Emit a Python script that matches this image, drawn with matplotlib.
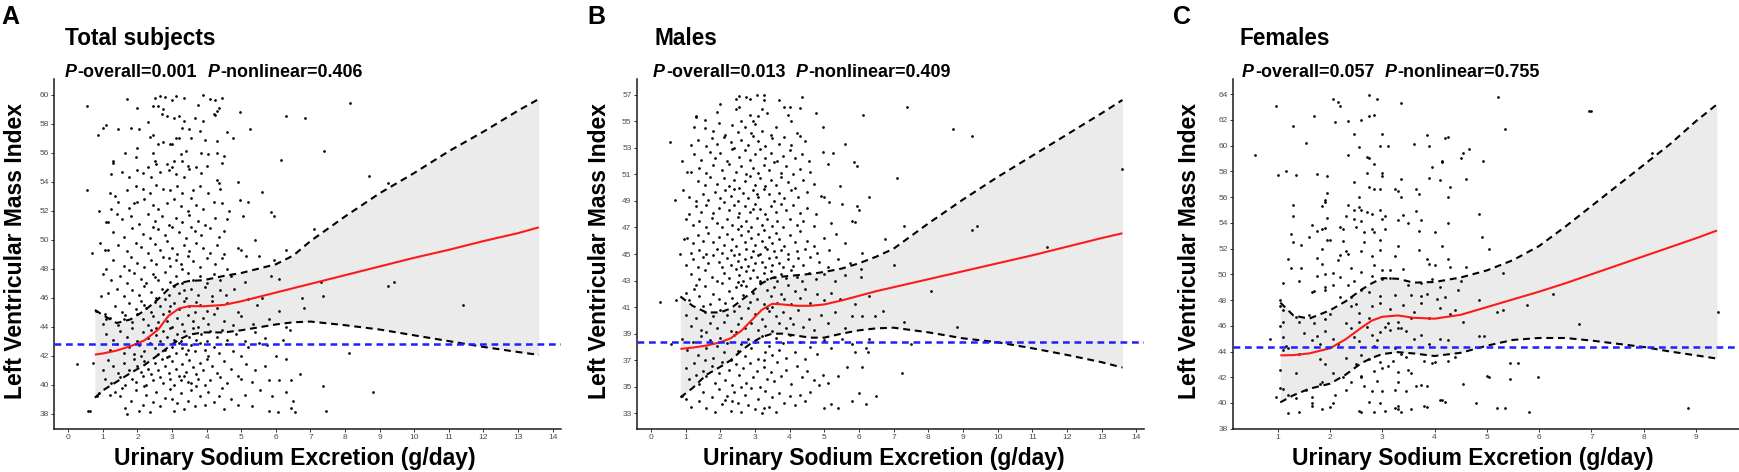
import matplotlib
matplotlib.use("Agg")
import matplotlib.pyplot as plt
import numpy as np

# ---------------- data ----------------
panel_letters = ["A", "B", "C"]
panel_titles = ["Total subjects", "Males", "Females"]
p_overall = ["0.001", "0.013", "0.057"]
p_nonlinear = ["0.406", "0.409", "0.755"]

xticks_a = list(range(0, 15))
yticks_a = list(range(38, 61, 2))
xticks_b = list(range(0, 15))
yticks_b = list(range(33, 58, 2))
xticks_c = list(range(1, 10))
yticks_c = list(range(38, 65, 2))

ref_a = 42.82
ref_b = 38.36
ref_c = 44.36

# spline fit (x, estimate, upper, lower)
fit_x_a = [0.77, 1.0, 1.4, 1.8, 2.2, 2.6, 2.9, 3.2, 3.5, 3.9, 4.5, 5.0, 5.5, 6.0, 6.5, 7.0, 8.0, 9.0, 10.0, 11.0, 12.0, 13.0, 13.6]
fit_y_a = [42.07, 42.15, 42.35, 42.65, 43.05, 43.8, 44.75, 45.25, 45.42, 45.4, 45.5, 45.75, 46.05, 46.35, 46.65, 46.95, 47.55, 48.15, 48.75, 49.3, 49.9, 50.45, 50.85]
upr_y_a = [45.15, 44.8, 44.25, 44.5, 45.1, 45.9, 46.6, 47.0, 47.15, 47.2, 47.5, 47.7, 48.0, 48.3, 48.9, 49.9, 51.6, 53.2, 54.6, 56.1, 57.45, 58.9, 59.7]
lwr_y_a = [39.1, 39.6, 40.2, 40.8, 41.35, 42.05, 42.6, 43.1, 43.45, 43.6, 43.6, 43.75, 43.95, 44.15, 44.3, 44.35, 44.1, 43.8, 43.4, 43.0, 42.6, 42.25, 42.05]

fit_x_b = [0.85, 1.2, 1.6, 2.0, 2.3, 2.6, 2.9, 3.2, 3.5, 3.8, 4.2, 4.6, 5.0, 5.5, 6.0, 6.5, 7.0, 8.0, 9.0, 10.0, 11.0, 12.0, 13.0, 13.6]
fit_y_b = [37.85, 37.95, 38.1, 38.35, 38.65, 39.2, 40.0, 40.8, 41.25, 41.2, 41.1, 41.1, 41.2, 41.5, 41.85, 42.2, 42.5, 43.1, 43.7, 44.3, 44.9, 45.55, 46.2, 46.56]
upr_y_b = [41.8, 41.1, 40.6, 40.6, 40.9, 41.5, 42.1, 42.8, 43.2, 43.3, 43.4, 43.5, 43.65, 43.9, 44.3, 44.8, 45.4, 47.3, 49.1, 50.8, 52.4, 54.0, 55.6, 56.6]
lwr_y_b = [34.2, 34.9, 35.9, 36.5, 37.0, 37.7, 38.3, 38.75, 39.0, 39.0, 38.85, 38.7, 38.7, 39.0, 39.25, 39.4, 39.45, 39.1, 38.65, 38.35, 37.9, 37.4, 36.85, 36.45]

fit_x_c = [1.05, 1.3, 1.6, 2.0, 2.3, 2.6, 2.8, 3.0, 3.3, 3.6, 4.0, 4.5, 5.0, 5.5, 6.0, 6.5, 7.0, 7.5, 8.0, 8.5, 9.0, 9.4]
fit_y_c = [43.7, 43.72, 43.85, 44.25, 44.95, 45.85, 46.4, 46.7, 46.8, 46.62, 46.55, 46.85, 47.45, 48.05, 48.65, 49.3, 50.0, 50.7, 51.4, 52.1, 52.8, 53.4]
upr_y_c = [47.8, 46.8, 46.55, 47.2, 47.9, 48.8, 49.3, 49.7, 49.65, 49.35, 49.4, 49.75, 50.3, 51.1, 52.2, 53.7, 55.3, 56.9, 58.5, 60.1, 61.9, 63.2]
lwr_y_c = [40.05, 40.6, 41.1, 41.5, 42.2, 43.1, 43.5, 43.8, 43.95, 43.85, 43.65, 43.9, 44.45, 44.9, 45.05, 45.05, 44.85, 44.6, 44.35, 44.0, 43.7, 43.45]

# individual subjects (urinary sodium g/day, LVMI)
pts_a = [
(1.7,59.7),(2.5,59.8),(2.65,59.9),(2.8,59.85),(3.1,59.9),(3.35,59.8),(3.9,60.0),(4.1,59.7),(4.25,59.6),(4.45,59.75),
(2.45,59.2),(2.6,59.2),(2.75,59.0),(3.0,59.6),(2.0,59.1),(4.3,58.9),(4.35,59.1),(3.75,59.3),(0.55,59.2),(8.15,59.4),
(1.0,57.7),(1.1,57.9),(2.3,58.1),(2.85,58.5),(3.2,58.5),(3.35,58.2),(3.65,58.4),(3.9,58.2),(4.2,58.7),(4.25,58.6),
(4.95,58.8),(2.7,58.7),(3.05,58.4),(6.3,58.5),(6.85,58.4),(1.45,57.6),(1.8,57.7),(2.05,57.6),(2.45,57.2),(3.3,57.7),
(3.5,57.6),(3.8,57.5),(4.6,57.4),(4.75,57.0),(5.25,57.6),(0.85,57.2),
(2.35,57.1),(2.6,56.6),(2.75,56.75),(3.1,57.0),(3.2,57.0),(3.0,56.6),(3.55,57.0),(3.95,56.9),(4.3,56.8),(2.0,56.3),
(2.45,56.0),(2.95,56.6),(3.4,56.1),(3.85,56.0),(4.05,55.9),(4.3,56.0),(4.5,55.8),(3.25,55.9),(7.4,56.1),(1.65,56.0),
(1.3,55.4),(1.3,55.3),(1.95,55.7),(2.3,55.0),(2.5,55.4),(2.55,55.2),(2.85,55.2),(3.05,55.4),(3.3,55.4),(3.45,55.1),
(3.7,55.0),(4.0,55.1),(4.45,55.3),(6.15,55.5),(1.55,54.7),(1.75,54.3),(2.15,54.6),(2.4,54.3),(2.65,54.7),(2.9,54.8),
(3.1,54.5),(3.35,54.3),(3.5,54.9),(3.85,54.6),(4.3,54.1),(4.35,53.9),(4.9,54.0),(1.25,54.5),(3.0,55.0),(2.0,54.8),(8.7,54.4),
(0.55,53.4),(1.2,53.2),(1.35,53.0),(1.7,53.4),(1.95,53.7),(2.15,53.5),(2.35,53.2),(2.55,53.8),(2.75,53.5),(2.95,53.4),
(3.15,53.7),(3.3,53.2),(3.6,53.4),(3.8,53.7),(4.05,53.2),(4.4,53.5),(5.6,53.3),(9.25,53.9),(1.45,52.6),(1.75,52.2),
(2.0,52.6),(2.2,52.8),(2.45,52.4),(2.6,52.1),(2.85,52.5),(3.05,52.8),(3.25,52.3),(3.45,52.0),(3.7,52.4),(3.9,52.1),
(4.2,52.6),(4.45,52.5),(4.95,52.7),(5.2,52.6),(1.25,52.1),(1.9,52.5),(3.55,52.9),(4.65,52.0),
(0.9,52.0),(1.1,51.2),(1.15,51.2),(1.55,51.4),(1.8,51.6),(2.05,51.1),(2.3,51.8),(2.5,51.3),(2.7,51.6),(2.9,51.0),
(3.1,51.5),(3.3,51.2),(3.5,51.7),(3.75,51.3),(3.95,51.0),(4.25,51.5),(4.6,51.4),(5.05,51.6),(5.85,51.9),(5.95,51.6),
(1.3,50.5),(1.6,50.2),(1.85,50.8),(2.15,50.4),(2.35,50.1),(2.6,50.7),(2.8,50.3),(3.0,50.9),(3.2,50.5),(3.4,50.1),
(3.65,50.6),(3.85,50.3),(4.1,50.8),(4.35,50.2),(4.5,50.6),(5.4,50.0),(7.1,50.7),(2.45,50.9),(3.55,50.9),(1.4,51.8),
(0.93,49.8),(0.7,49.1),(1.05,49.3),(1.15,49.3),(1.45,49.6),(1.7,49.2),(1.95,49.8),(2.1,49.5),(2.3,49.1),(2.5,49.7),
(2.65,49.3),(2.85,49.9),(3.0,49.4),(3.15,49.0),(3.35,49.6),(3.5,49.2),(3.7,49.8),(3.9,49.4),(4.1,49.1),(4.3,49.6),
(4.5,49.0),(4.9,49.4),(5.0,49.3),(5.15,48.9),(6.3,49.3),(1.3,48.6),(1.6,48.2),(1.8,48.8),(2.0,48.4),(2.2,48.1),
(2.4,48.6),(2.55,48.3),(2.75,48.8),(2.95,48.2),(3.1,48.6),(3.25,48.3),(3.45,48.9),(3.6,48.5),(3.8,48.1),(4.0,48.7),
(4.25,48.3),(4.45,48.7),(4.6,48.0),(5.5,48.9),(5.95,48.6),(2.9,48.7),(3.3,48.0),(1.1,48.0),
(1.0,47.6),(1.25,47.2),(1.5,47.5),(1.7,47.0),(1.9,47.7),(2.1,47.3),(2.25,47.0),(2.45,47.6),(2.6,47.2),(2.8,47.8),
(2.95,47.1),(3.1,47.5),(3.3,47.0),(3.45,47.7),(3.6,47.2),(3.8,47.5),(4.0,47.0),(4.2,47.6),(4.4,47.2),(4.7,47.5),
(5.1,47.1),(5.85,47.5),(6.1,47.3),(7.3,47.1),(0.95,46.1),(1.15,46.3),(1.4,46.6),(1.6,46.1),(1.85,46.5),(2.05,46.2),
(2.2,46.8),(2.4,46.4),(2.55,46.0),(2.7,46.6),(2.9,46.2),(3.05,46.8),(3.2,46.3),(3.4,46.0),(3.55,46.6),(3.75,46.2),
(3.95,46.7),(4.15,46.1),(4.4,46.5),(4.55,46.2),(4.8,46.6),(5.6,46.0),(6.75,46.0),(7.35,46.1),(9.25,46.8),(9.4,47.1),
(2.5,47.4),(3.35,46.5),(1.75,47.9),
(0.8,45.1),(1.05,44.9),(1.1,44.5),(1.35,45.4),(1.55,45.0),(1.75,45.6),(1.95,45.2),(2.1,45.8),(2.25,45.3),(2.4,45.0),
(2.5,45.7),(2.65,45.4),(2.8,45.9),(2.9,45.1),(3.05,45.6),(3.2,45.2),(3.35,45.8),(3.5,45.4),(3.65,45.0),(3.8,45.5),
(4.0,45.1),(4.15,45.8),(4.3,45.3),(4.6,45.6),(4.9,45.0),(5.2,45.9),(5.45,45.5),(6.1,45.1),(6.8,45.3),(11.4,45.5),
(1.0,44.2),(1.2,44.6),(1.45,44.1),(1.65,44.8),(1.85,44.3),(2.0,44.9),(2.15,44.5),(2.3,44.1),(2.45,44.7),(2.6,44.3),
(2.75,44.9),(2.85,44.4),(3.0,44.0),(3.15,44.6),(3.3,44.2),(3.45,44.8),(3.6,44.4),(3.75,44.0),(3.9,44.6),(4.05,44.2),
(4.2,44.9),(4.5,44.4),(4.75,44.1),(5.0,44.7),(5.35,44.2),(5.8,44.5),(6.3,44.0),(2.2,45.5),(2.95,45.4),(3.7,45.7),(1.6,44.5),
(0.25,41.4),(1.1,43.5),(1.3,43.1),(1.5,43.7),(1.7,43.3),(1.85,43.9),(2.0,43.0),(2.15,43.6),(2.3,43.2),(2.4,43.8),
(2.55,43.4),(2.65,43.0),(2.75,43.7),(2.85,43.3),(2.95,43.9),(3.05,43.1),(3.15,43.5),(3.25,43.0),(3.35,43.7),(3.5,43.3),
(3.6,43.9),(3.7,43.1),(3.85,43.5),(4.0,43.0),(4.1,43.7),(4.3,43.3),(4.45,43.8),(4.6,43.1),(4.85,43.5),(5.1,43.0),
(5.4,43.6),(5.7,43.2),(6.2,43.1),(6.4,43.8),(1.2,42.4),(1.4,42.8),(1.6,42.2),(1.75,42.6),(1.9,42.1),(2.05,42.7),
(2.2,42.3),(2.35,42.9),(2.5,42.5),(2.6,42.1),(2.7,42.8),(2.8,42.4),(2.9,42.0),(3.0,42.6),(3.1,42.2),(3.2,42.9),
(3.3,42.5),(3.4,42.1),(3.55,42.7),(3.65,42.3),(3.8,42.9),(3.95,42.4),(4.05,42.0),(4.2,42.6),(4.35,42.2),(4.55,42.8),
(4.75,42.3),(5.0,42.0),(5.2,42.6),(5.5,42.9),(5.75,42.7),(6.0,42.0),(8.1,42.2),(2.55,43.9),(3.45,42.4),(2.1,42.0),
(0.72,41.5),(1.0,41.0),(1.15,41.7),(1.3,41.3),(1.45,40.8),(1.6,41.5),(1.75,41.0),(1.9,41.8),(2.0,41.3),(2.1,40.9),
(2.2,41.6),(2.3,41.1),(2.4,40.7),(2.5,41.5),(2.6,41.0),(2.7,41.8),(2.8,41.3),(2.9,40.8),(3.0,41.6),(3.1,41.1),
(3.2,40.6),(3.3,41.4),(3.4,40.9),(3.5,41.7),(3.6,41.2),(3.7,40.7),(3.8,41.5),(3.9,41.0),(4.0,41.8),(4.15,41.3),
(4.3,40.8),(4.5,41.6),(4.7,41.1),(4.9,40.6),(5.15,41.4),(5.4,41.0),(5.7,41.3),(6.3,41.8),(1.05,40.4),(1.25,40.1),
(1.5,40.5),(1.65,40.0),(1.85,40.4),(1.95,40.2),(2.15,40.6),(2.25,40.0),(2.45,40.3),(2.65,40.5),(2.75,40.1),(2.95,40.4),
(3.05,40.0),(3.25,40.3),(3.35,40.6),(3.55,40.1),(3.75,40.4),(3.95,40.0),(4.1,40.3),(4.4,40.5),(4.6,40.1),(5.0,40.4),
(5.3,40.2),(5.8,40.3),(6.1,40.3),(6.45,40.3),(6.7,40.7),(2.85,41.9),(3.45,40.2),
(0.57,38.2),(0.62,38.2),(0.82,39.2),(0.9,39.4),(1.2,39.3),(1.35,39.5),(1.5,39.2),(1.65,38.4),(1.7,38.0),(1.8,38.9),
(1.95,39.6),(2.05,38.2),(2.15,38.6),(2.25,39.3),(2.35,38.1),(2.45,38.8),(2.55,39.5),(2.65,38.5),(2.8,39.1),(2.95,39.7),
(3.05,38.2),(3.15,38.7),(3.25,39.4),(3.35,38.3),(3.45,38.9),(3.55,39.6),(3.65,38.5),(3.8,39.2),(3.95,38.6),(4.05,39.5),
(4.2,38.8),(4.35,39.2),(4.5,38.3),(4.7,39.0),(4.9,38.6),(5.1,39.3),(5.3,38.5),(5.55,39.6),(5.8,38.2),(5.9,39.2),
(6.05,38.1),(6.3,39.5),(6.5,38.9),(6.55,38.1),(6.45,38.4),(7.45,38.2),(7.35,39.9),(8.8,39.5),(3.0,39.0),(2.2,39.9),
(3.7,39.9),(1.55,39.8),(4.45,39.8),
]

pts_b = [
(2.45,56.7),(2.55,56.9),(2.75,56.8),(2.85,56.7),(3.05,57.0),(3.25,57.0),(3.25,56.6),(3.7,56.6),(3.85,56.1),(4.0,56.1),
(4.3,56.0),(4.35,56.8),(1.9,55.7),(2.0,56.3),(2.45,55.9),(2.55,56.1),(2.85,55.5),(3.1,55.4),(3.2,55.9),(3.35,55.6),
(3.95,55.5),(4.75,55.6),(1.3,55.4),(1.3,55.3),(2.6,55.0),(2.95,55.0),(7.4,56.1),(6.13,55.5),(1.55,55.1),(4.05,55.0),
(1.25,54.6),(1.55,54.5),(1.8,54.3),(1.95,54.9),(2.15,54.0),(2.35,54.7),(2.5,54.2),(2.7,54.6),(2.9,54.1),(3.0,54.8),
(3.2,54.3),(3.45,54.0),(3.6,54.6),(4.2,54.1),(4.3,53.9),(4.95,54.6),(8.7,54.4),(1.15,53.2),(1.35,53.6),(1.6,53.1),
(1.75,53.7),(1.9,53.3),(2.1,53.8),(2.3,53.4),(2.4,53.0),(2.6,53.6),(2.8,53.2),(3.1,53.5),(3.3,53.1),(3.5,53.7),
(3.7,53.3),(3.85,53.8),(4.05,53.2),(4.45,53.5),(5.6,53.3),(9.27,53.9),(0.55,53.4),(2.95,53.9),
(0.9,52.0),(1.25,52.5),(1.45,52.1),(1.7,52.7),(1.85,52.2),(2.0,52.6),(2.2,52.0),(2.35,52.9),(2.55,52.3),(2.7,52.8),
(2.85,52.1),(3.0,52.5),(3.15,52.9),(3.3,52.2),(3.45,52.6),(3.65,52.0),(3.8,52.4),(4.0,52.8),(4.15,52.2),(4.35,52.5),
(4.55,52.0),(4.95,52.7),(5.25,52.6),(5.95,51.6),(5.85,51.9),(1.15,51.2),(1.05,51.2),(1.4,51.5),(1.6,51.1),(1.8,51.7),
(2.05,51.3),(2.25,51.8),(2.45,51.2),(2.6,51.6),(2.75,51.0),(2.95,51.5),(3.1,51.1),(3.25,51.7),(3.4,51.3),(3.55,51.9),
(3.75,51.1),(3.9,51.6),(4.1,51.0),(4.3,51.4),(4.6,51.2),(5.1,51.8),(13.6,51.4),(7.1,50.7),
(1.35,50.5),(1.55,50.2),(1.7,50.8),(1.9,50.3),(2.1,50.7),(2.25,50.1),(2.4,50.6),(2.55,50.0),(2.7,50.5),(2.85,50.9),
(3.0,50.2),(3.15,50.7),(3.3,50.1),(3.45,50.6),(3.6,50.2),(3.75,50.8),(3.95,50.4),(4.15,50.0),(4.4,50.6),(4.7,50.3),
(5.45,50.1),(0.93,49.8),(0.7,49.1),(1.1,49.3),(1.3,49.0),(1.5,49.5),(1.65,49.1),(1.85,49.7),(2.0,49.2),(2.15,49.8),
(2.3,49.4),(2.5,49.0),(2.65,49.6),(2.8,49.2),(2.95,49.8),(3.1,49.3),(3.25,49.9),(3.4,49.5),(3.55,49.0),(3.7,49.6),
(3.85,49.2),(4.05,49.8),(4.25,49.3),(4.5,49.7),(4.9,49.4),(5.0,49.3),(6.3,49.3),(3.05,49.5),(2.4,49.9),
(1.1,48.0),(1.3,48.6),(1.45,48.2),(1.6,48.7),(1.8,48.1),(1.95,48.5),(2.1,48.9),(2.25,48.3),(2.4,48.7),(2.55,48.1),
(2.7,48.6),(2.85,48.2),(3.0,48.8),(3.15,48.4),(3.3,48.0),(3.45,48.6),(3.6,48.2),(3.75,48.8),(3.9,48.3),(4.1,48.7),
(4.3,48.1),(4.5,48.5),(4.75,48.0),(5.15,48.9),(5.5,48.8),(5.95,48.6),(6.0,48.3),(1.0,47.6),(1.2,47.2),(1.4,47.5),
(1.6,47.0),(1.75,47.7),(1.9,47.3),(2.05,47.0),(2.2,47.6),(2.35,47.2),(2.5,47.8),(2.6,47.1),(2.75,47.5),(2.9,47.0),
(3.05,47.7),(3.2,47.2),(3.35,47.6),(3.5,47.1),(3.65,47.5),(3.8,47.0),(4.0,47.6),(4.2,47.2),(4.4,47.5),(4.7,47.1),
(5.2,47.3),(5.8,47.5),(5.9,47.4),(7.3,47.1),(9.25,46.8),(9.4,47.1),(2.95,48.4),
(0.95,46.1),(1.05,46.2),(1.2,45.8),(1.35,46.4),(1.5,46.0),(1.65,46.6),(1.8,45.9),(1.95,46.3),(2.1,45.7),(2.2,46.5),
(2.35,46.1),(2.45,45.6),(2.6,46.4),(2.7,45.9),(2.8,46.7),(2.9,46.2),(3.0,45.7),(3.1,46.5),(3.2,46.0),(3.3,45.5),
(3.4,46.3),(3.5,45.8),(3.6,46.6),(3.7,46.1),(3.85,45.6),(4.0,46.4),(4.15,45.9),(4.3,46.7),(4.5,46.0),(4.7,45.6),
(5.0,46.2),(5.35,46.5),(5.6,45.8),(6.75,46.1),(0.85,45.0),(1.15,45.1),(1.4,45.3),(1.6,45.0),(1.9,45.4),(2.05,45.1),
(2.3,45.3),(2.55,45.0),(2.75,45.4),(2.95,45.2),(3.15,45.0),(3.35,45.4),(3.55,45.2),(3.75,45.3),(3.95,45.0),(4.2,45.2),
(4.45,45.4),(4.8,45.1),(5.15,45.3),(6.1,45.1),(11.43,45.5),(2.5,46.9),(3.25,46.8),
(1.0,44.2),(1.2,44.6),(1.35,44.0),(1.5,44.8),(1.65,44.3),(1.8,44.9),(1.95,44.4),(2.05,44.0),(2.2,44.7),(2.3,44.2),
(2.4,44.9),(2.5,44.5),(2.6,44.0),(2.7,44.6),(2.8,44.1),(2.9,44.8),(3.0,44.3),(3.1,44.9),(3.2,44.4),(3.3,44.0),
(3.4,44.7),(3.5,44.2),(3.6,44.8),(3.7,44.3),(3.8,44.0),(3.95,44.6),(4.1,44.1),(4.25,44.7),(4.4,44.2),(4.6,44.8),
(4.85,44.4),(5.1,44.0),(5.4,44.6),(5.75,44.3),(7.0,44.2),(6.05,43.9),(1.15,43.5),(1.4,43.1),(1.55,43.8),(1.75,43.3),
(1.9,43.0),(2.1,43.6),(2.25,43.2),(2.45,43.9),(2.55,43.4),(2.65,43.0),(2.75,43.7),(2.85,43.2),(2.95,43.8),(3.05,43.3),
(3.15,43.0),(3.25,43.6),(3.35,43.1),(3.45,43.7),(3.55,43.3),(3.65,43.0),(3.75,43.5),(3.9,43.2),(4.05,43.8),(4.2,43.3),
(4.35,43.0),(4.55,43.6),(4.75,43.1),(5.0,43.5),(5.3,43.0),(5.6,43.4),(6.05,43.3),(1.3,42.7),(2.6,42.7),
(0.25,41.4),(0.72,41.5),(1.0,42.1),(1.1,41.5),(1.25,42.4),(1.4,41.8),(1.55,42.6),(1.7,41.2),(1.8,42.0),(1.95,41.6),
(2.05,42.8),(2.15,41.3),(2.25,42.2),(2.35,41.7),(2.45,42.5),(2.55,41.1),(2.65,41.9),(2.75,42.6),(2.85,41.4),(2.95,42.1),
(3.05,41.6),(3.15,42.8),(3.25,41.2),(3.35,42.3),(3.45,41.8),(3.55,42.5),(3.65,41.3),(3.75,42.0),(3.85,41.6),(3.95,42.7),
(4.05,41.2),(4.15,42.2),(4.3,41.7),(4.45,42.4),(4.6,41.3),(4.8,42.0),(5.0,41.5),(5.2,42.1),(5.45,41.6),(5.9,41.2),
(6.3,41.8),(8.09,42.2),(1.5,41.1),(2.5,42.9),(3.5,41.0),
(1.0,40.4),(1.15,39.6),(1.3,40.2),(1.45,39.3),(1.55,40.6),(1.7,39.8),(1.8,40.3),(1.9,39.4),(2.0,40.8),(2.1,39.9),
(2.2,40.4),(2.3,39.2),(2.4,40.7),(2.5,39.7),(2.6,40.2),(2.7,39.4),(2.8,40.9),(2.9,39.8),(3.0,40.5),(3.1,39.3),
(3.2,40.1),(3.3,39.6),(3.4,40.7),(3.5,39.2),(3.6,40.3),(3.7,39.8),(3.8,40.6),(3.9,39.4),(4.0,40.2),(4.1,39.7),
(4.25,40.8),(4.4,39.5),(4.55,40.1),(4.7,39.3),(4.9,40.4),(5.1,39.8),(5.3,40.6),(5.6,39.4),(5.8,40.3),(6.1,40.3),
(6.45,40.3),(6.7,40.7),(7.3,39.9),(8.84,39.5),(1.6,39.1),(3.35,40.9),(2.45,39.1),
(0.57,38.2),(0.9,38.6),(1.05,37.8),(1.2,38.4),(1.35,37.4),(1.45,38.8),(1.6,37.9),(1.7,38.5),(1.8,37.2),(1.9,38.1),
(2.0,38.7),(2.1,37.6),(2.2,38.3),(2.3,37.0),(2.4,38.9),(2.5,37.7),(2.6,38.2),(2.7,37.3),(2.8,38.6),(2.9,37.9),
(3.0,38.4),(3.1,37.1),(3.2,38.8),(3.3,37.6),(3.4,38.1),(3.5,37.4),(3.6,38.7),(3.7,37.8),(3.8,38.3),(3.9,37.2),
(4.0,38.9),(4.15,37.6),(4.3,38.4),(4.45,37.1),(4.6,38.0),(4.8,37.5),(5.0,38.5),(5.2,37.9),(5.5,38.6),(5.8,38.2),
(5.9,37.6),(6.2,37.9),(6.25,37.6),(7.5,38.2),(6.3,38.6),(1.55,37.0),(3.25,37.0),
(1.0,36.4),(1.1,35.6),(1.25,36.8),(1.4,35.2),(1.5,36.2),(1.6,35.8),(1.75,36.6),(1.85,35.3),(1.95,36.0),(2.05,36.9),
(2.15,35.5),(2.25,36.3),(2.35,35.1),(2.45,36.7),(2.55,35.9),(2.65,36.4),(2.75,35.3),(2.85,36.8),(2.95,35.7),(3.05,36.2),
(3.15,35.0),(3.25,36.5),(3.35,35.6),(3.45,36.1),(3.55,35.4),(3.65,36.9),(3.75,35.8),(3.9,36.3),(4.05,35.2),(4.2,36.6),
(4.35,35.7),(4.5,36.2),(4.7,35.5),(4.95,35.9),(5.1,35.3),(5.4,35.8),(5.65,36.5),(6.1,36.5),(7.25,36.0),(4.85,35.1),
(2.6,35.0),(1.3,35.9),
(0.9,34.3),(1.0,34.1),(1.15,33.5),(1.4,33.9),(1.5,34.6),(1.6,33.4),(1.75,34.2),(1.85,33.1),(1.95,34.8),(2.05,33.7),
(2.2,34.3),(2.3,33.2),(2.4,34.6),(2.5,33.8),(2.6,33.1),(2.7,34.4),(2.8,33.6),(2.9,34.9),(3.0,33.3),(3.1,34.1),
(3.2,33.0),(3.3,34.7),(3.4,33.5),(3.5,34.2),(3.6,33.1),(3.7,34.5),(3.85,33.8),(4.0,34.3),(4.15,33.6),(4.3,34.4),
(4.45,33.9),(4.6,34.6),(5.0,33.4),(5.2,33.7),(5.4,33.4),(5.8,33.9),(6.2,33.7),(6.5,34.3),(6.0,34.5),(2.15,34.0),
(3.25,33.4),(2.35,33.9),
]

pts_c = [
(0.96,63.1),(2.05,63.6),(2.15,63.4),(2.2,63.1),(2.75,63.9),(2.9,63.6),(3.35,63.3),(5.22,63.8),(1.7,62.3),(2.35,61.9),
(2.6,62.0),(2.75,62.3),(2.85,62.4),(6.95,62.7),(7.0,62.7),(2.1,61.8),(1.3,61.5),
(3.0,60.9),(2.45,60.9),(1.55,60.2),(2.55,59.9),(2.95,60.0),(3.1,60.0),(3.6,60.1),(3.85,60.8),(3.9,60.0),(4.2,60.6),
(4.25,60.7),(5.35,61.3),(0.57,59.3),(2.35,59.3),
(2.7,59.1),(2.75,59.0),(2.85,58.6),(3.0,57.9),(3.95,58.3),(4.15,58.8),(4.15,58.7),(4.5,59.0),(4.55,59.4),(4.65,59.7),
(4.93,58.8),(8.16,59.4),(1.0,57.7),(1.15,58.0),
(1.35,57.7),(1.75,57.8),(1.95,57.6),(2.45,57.2),(2.7,57.9),(2.75,56.8),(2.85,56.6),(2.95,56.6),(3.0,57.6),(3.3,56.5),
(3.35,57.4),(3.25,56.6),(3.65,56.6),(3.7,56.2),(3.9,57.5),(4.1,57.3),(4.3,56.8),(4.25,56.0),(4.6,57.4),(2.55,56.0),
(1.95,56.3),(1.9,55.8),(3.35,56.0),
(1.3,55.4),(1.9,55.6),(1.85,55.3),(2.35,55.4),(2.45,55.0),(2.55,55.2),(2.6,55.0),(2.7,54.8),(2.8,54.7),(2.95,55.0),
(3.05,54.5),(2.6,54.1),(2.45,54.3),(3.4,54.6),(3.5,54.0),(3.75,54.2),(3.65,54.9),(4.85,54.7),(1.3,54.5),(1.95,54.4),
(2.3,54.5),(3.0,54.3),(3.3,54.2),(4.25,54.0),
(1.65,53.8),(1.75,53.4),(1.85,53.5),(1.9,53.6),(2.2,53.7),(2.25,53.5),(2.5,53.7),(2.65,53.3),(2.8,53.5),(2.85,53.3),
(3.05,53.5),(3.7,53.4),(4.0,53.3),(1.25,53.1),(1.3,52.5),(1.45,52.3),(1.6,52.9),(1.95,52.7),(2.0,52.7),(2.25,52.6),
(2.65,52.5),(2.95,52.7),(3.3,52.2),(3.7,51.9),(4.15,52.2),(4.9,52.9),(5.05,52.0),(1.85,52.0),
(1.2,51.2),(1.25,50.5),(1.45,50.5),(1.75,51.3),(1.85,50.8),(2.2,51.5),(2.15,51.1),(2.3,51.8),(2.35,51.6),(2.6,51.8),
(2.8,51.4),(2.95,51.9),(3.25,51.4),(3.85,51.2),(3.9,50.8),(4.0,50.7),(4.25,51.2),(4.3,50.6),(2.4,50.5),(2.6,50.2),
(2.85,50.7),(3.0,50.3),(3.15,50.3),(3.4,50.4),(4.6,50.6),(5.3,50.1),(1.9,50.0),(2.05,50.1),
(1.1,49.3),(1.4,49.5),(1.75,49.9),(1.9,49.0),(2.05,49.2),(2.2,49.8),(2.35,49.2),(2.45,49.5),(2.6,48.8),(2.8,49.9),
(3.0,49.6),(3.15,49.7),(3.5,49.2),(3.75,49.3),(3.95,49.6),(4.1,49.0),(4.5,49.5),(1.65,48.6),(1.7,48.7),(2.2,48.2),
(2.4,48.2),(2.75,48.6),(2.95,48.3),(3.25,48.4),(3.55,48.4),(3.75,48.3),(3.85,48.5),(4.05,48.1),(4.2,48.2),(4.45,48.8),
(4.85,48.0),(6.27,48.5),(1.05,48.0),(1.9,48.8),
(1.05,47.5),(1.1,47.2),(1.35,46.7),(1.6,46.8),(2.0,46.9),(2.4,47.5),(2.5,47.7),(2.55,47.0),(2.8,47.5),(2.95,47.8),
(3.15,47.3),(3.4,47.6),(3.6,47.1),(3.75,47.8),(4.1,47.4),(4.3,46.9),(4.4,47.2),(5.2,47.1),(5.3,47.2),(5.76,47.6),
(1.1,46.3),(1.05,46.0),(1.4,46.3),(1.7,46.2),(1.9,46.5),(2.3,46.2),(2.55,46.3),(2.75,46.6),(3.1,46.2),(3.3,46.3),
(3.55,46.6),(3.9,46.6),(4.55,46.3),(6.76,46.15),(9.42,47.1),
(0.85,45.0),(1.1,45.1),(1.15,44.4),(1.2,44.3),(1.5,45.4),(1.65,44.9),(1.75,45.2),(1.8,44.6),(1.9,45.6),(2.05,45.0),
(2.15,44.6),(2.4,45.8),(2.45,45.1),(2.55,44.8),(2.7,45.9),(2.8,45.3),(2.9,44.9),(2.95,45.5),(3.05,45.9),(3.15,45.7),
(3.3,45.8),(3.35,45.8),(3.45,45.6),(3.6,45.0),(3.75,45.3),(3.9,44.6),(4.1,45.0),(4.25,44.9),(4.85,45.2),(4.95,45.2),
(2.85,44.4),(3.25,44.3),(1.1,44.1),
(1.05,42.6),(1.4,43.8),(1.8,43.4),(1.9,43.0),(2.05,42.3),(2.3,43.5),(2.5,43.0),(2.6,42.1),(2.75,43.4),(2.85,42.5),
(2.95,43.2),(3.0,42.7),(3.1,42.9),(3.2,43.3),(3.3,42.4),(3.45,43.6),(3.5,42.6),(3.55,42.3),(3.8,43.3),(3.95,43.1),
(4.0,43.2),(4.25,43.3),(4.4,43.6),(5.45,43.1),(5.6,43.1),(1.35,42.3),(2.25,42.0),(2.6,43.7),(3.35,43.8),
(1.05,41.2),(1.2,40.6),(1.35,40.4),(1.55,41.0),(1.65,40.5),(1.8,41.5),(1.85,41.6),(2.1,40.6),(2.3,41.0),(2.4,41.6),
(2.6,42.0),(2.65,41.3),(2.8,40.9),(2.9,41.7),(3.0,40.9),(3.25,41.0),(3.3,41.6),(3.45,40.9),(3.65,41.3),(3.75,41.4),
(3.85,41.3),(4.15,40.2),(4.2,40.1),(4.55,41.5),(5.0,42.1),(5.05,42.0),(5.45,41.9),(5.97,42.05),(0.96,40.5),(1.1,41.1),
(1.65,40.0),
(1.2,39.2),(1.4,39.3),(1.65,39.8),(1.85,39.5),(2.0,39.7),(2.05,40.0),(2.55,39.4),(2.6,39.3),(2.75,40.1),(2.85,39.3),
(2.95,40.0),(3.05,39.4),(3.25,39.6),(3.3,39.8),(3.35,39.3),(3.55,39.5),(3.8,39.8),(3.85,39.7),(4.1,40.2),(4.8,40.0),
(5.2,39.6),(5.35,39.6),(5.8,39.3),(8.84,39.6),(3.3,39.5),
]

# ---------------- layout (pixels) ----------------
W, H = 1740, 472
plt.rcParams["font.family"] = ["Liberation Sans", "DejaVu Sans"]

fig = plt.figure(figsize=(W / 100, H / 100), dpi=100)
renderer = fig.canvas.get_renderer()

panels = [
    dict(left=54.4, right=561.0, xlim=(-0.40, 14.24), ylim=(36.94, 61.08),
         xt=xticks_a, yt=yticks_a, fx=fit_x_a, fy=fit_y_a, up=upr_y_a, lo=lwr_y_a,
         pts=pts_a, ref=ref_a, letter_x=1, title_x=64.8, p_x=64.8, ylab_x=22.5, xlab_x=295),
    dict(left=636.7, right=1144.3, xlim=(-0.41, 14.23), ylim=(31.82, 58.18),
         xt=xticks_b, yt=yticks_b, fx=fit_x_b, fy=fit_y_b, up=upr_y_b, lo=lwr_y_b,
         pts=pts_b, ref=ref_b, letter_x=587, title_x=655, p_x=653, ylab_x=606.5, xlab_x=884),
    dict(left=1232.7, right=1740.0, xlim=(0.14, 9.84), ylim=(37.98, 65.17),
         xt=xticks_c, yt=yticks_c, fx=fit_x_c, fy=fit_y_c, up=upr_y_c, lo=lwr_y_c,
         pts=pts_c, ref=ref_c, letter_x=1173, title_x=1239.5, p_x=1242, ylab_x=1196, xlab_x=1473),
]

AX_TOP, AX_BOT = 79.0, 429.0


def fx(px):
    return px / W


def fy(py):
    return 1 - py / H


for i, p in enumerate(panels):
    ax = fig.add_axes([fx(p["left"]), fy(AX_BOT), (p["right"] - p["left"]) / W, (AX_BOT - AX_TOP) / H])
    ax.set_xlim(*p["xlim"])
    ax.set_ylim(*p["ylim"])
    for s in ["top", "right"]:
        ax.spines[s].set_visible(False)
    for s in ["left", "bottom"]:
        ax.spines[s].set_linewidth(1.1)
        ax.spines[s].set_color("#1a1a1a")
    ax.set_xticks(p["xt"])
    ax.set_yticks(p["yt"])
    ax.tick_params(axis="both", length=2.2, width=0.7, color="#333333",
                   labelsize=6, labelcolor="#4D4D4D", pad=1.5)

    fxa = np.array(p["fx"])
    ax.fill_between(fxa, p["lo"], p["up"], color="#EBEBEB", lw=0, zorder=1)
    pts = np.array(p["pts"])
    ax.scatter(pts[:, 0], pts[:, 1], s=3.8, c="black", linewidths=0, zorder=2)
    ax.plot(fxa, p["up"], color="black", lw=1.5, ls=(0, (3.3, 2.3)), zorder=3)
    ax.plot(fxa, p["lo"], color="black", lw=1.5, ls=(0, (3.3, 2.3)), zorder=3)
    ax.plot(fxa, p["fy"], color="#FF1A1A", lw=1.5, zorder=4, solid_capstyle="butt")
    ax.axhline(p["ref"], color="#1F1FFF", lw=1.8, ls=(0, (2.7, 1.9)), zorder=5)

    # panel letter and titles
    fig.text(fx(p["letter_x"]), fy(24), panel_letters[i], fontsize=18, fontweight="bold",
             ha="left", va="baseline")
    fig.text(fx(p["title_x"]), fy(45), panel_titles[i], fontsize=16.3, fontweight="bold",
             ha="left", va="baseline")

    # P-values line with italic P
    parts = [("P", "italic", 1.0), ("-overall=" + p_overall[i], "normal", 10.5),
             ("P", "italic", 1.0), ("-nonlinear=" + p_nonlinear[i], "normal", 0)]
    xcur = p["p_x"]
    for txt, sty, gap in parts:
        t = fig.text(fx(xcur), fy(76.5), txt, fontsize=12.9, fontweight="bold", fontstyle=sty,
                     ha="left", va="baseline")
        bb = t.get_window_extent(renderer)
        xcur = bb.x1 + gap

    # axis titles
    fig.text(fx(p["xlab_x"]), fy(465.5), "Urinary Sodium Excretion (g/day)", fontsize=16.5,
             fontweight="bold", ha="center", va="baseline")
    fig.text(fx(p["ylab_x"]), fy((AX_TOP + AX_BOT) / 2 - 3), "Left Ventricular Mass Index",
             fontsize=16.5, fontweight="bold", rotation=90, rotation_mode="anchor",
             ha="center", va="baseline")

fig.savefig("out.png", dpi=100)
